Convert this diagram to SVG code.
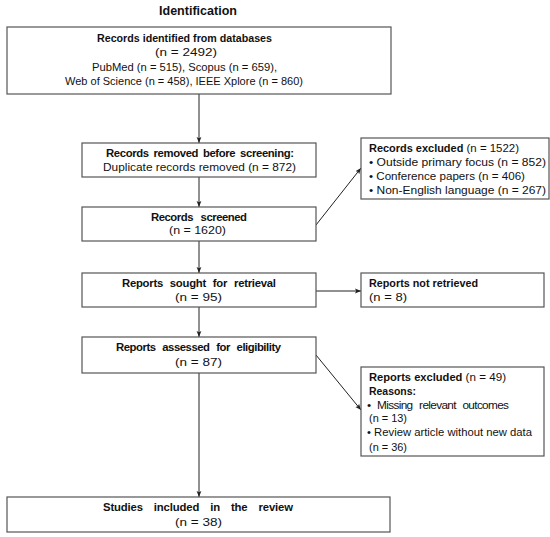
<svg xmlns="http://www.w3.org/2000/svg" width="550" height="537" viewBox="0 0 550 537">
<style>
text{font-family:"Liberation Sans",Arial,sans-serif;font-size:11.8px;fill:#111}
.b{font-weight:bold;font-size:11.3px}
.box{fill:#fff;stroke:#555;stroke-width:1.2}
.ln{stroke:#222;stroke-width:1;fill:none;marker-end:url(#ah)}
</style>
<defs>
<marker id="ah" viewBox="0 0 10 10" refX="10" refY="5" markerWidth="6" markerHeight="6" orient="auto" markerUnits="userSpaceOnUse">
<path d="M0,1 L10,5 L0,9 L2,5 z" fill="#222"/>
</marker>
</defs>
<rect width="550" height="537" fill="#fff"/>
<text class="b" x="159" y="15" style="font-size:13px" textLength="78" lengthAdjust="spacingAndGlyphs">Identification</text>
<g id="connectors">
<line class="ln" x1="199" y1="94" x2="199" y2="143"/>
<line class="ln" x1="199" y1="177" x2="199" y2="207"/>
<line class="ln" x1="316" y1="225" x2="361" y2="168"/>
<line class="ln" x1="199" y1="241" x2="199" y2="273"/>
<line class="ln" x1="316" y1="291" x2="361" y2="291"/>
<line class="ln" x1="199" y1="307" x2="199" y2="337"/>
<line class="ln" x1="316" y1="355" x2="361" y2="410"/>
<line class="ln" x1="199" y1="373" x2="199" y2="497"/>
</g>
<g id="identified">
<rect class="box" x="7" y="27" width="384" height="67"/>
<text class="b" x="97" y="42" textLength="175" lengthAdjust="spacingAndGlyphs">Records identified from databases</text>
<text x="155" y="56" textLength="62" lengthAdjust="spacingAndGlyphs">(n = 2492)</text>
<text x="92" y="71" textLength="185" lengthAdjust="spacingAndGlyphs">PubMed (n = 515), Scopus (n = 659),</text>
<text x="65" y="85" textLength="238" lengthAdjust="spacingAndGlyphs">Web of Science (n = 458), IEEE Xplore (n = 860)</text>
</g>
<g id="removed">
<rect class="box" x="82" y="143" width="234" height="34"/>
<text class="b" x="106" y="157" textLength="188" lengthAdjust="spacing" word-spacing="2">Records removed before screening:</text>
<text x="103" y="171" textLength="193" lengthAdjust="spacingAndGlyphs">Duplicate records removed (n = 872)</text>
</g>
<g id="screened">
<rect class="box" x="82" y="207" width="234" height="34"/>
<text class="b" x="151" y="221" textLength="96" lengthAdjust="spacing" word-spacing="5">Records screened</text>
<text x="169" y="234" textLength="57" lengthAdjust="spacingAndGlyphs">(n = 1620)</text>
</g>
<g id="excluded1">
<rect class="box" x="361" y="138" width="188" height="61"/>
<text x="369" y="152" textLength="150" lengthAdjust="spacingAndGlyphs"><tspan class="b">Records excluded</tspan> (n = 1522)</text>
<text x="369" y="166" textLength="177" lengthAdjust="spacingAndGlyphs">• Outside primary focus (n = 852)</text>
<text x="369" y="180" textLength="156" lengthAdjust="spacingAndGlyphs">• Conference papers (n = 406)</text>
<text x="369" y="194" textLength="177" lengthAdjust="spacingAndGlyphs">• Non-English language (n = 267)</text>
</g>
<g id="sought">
<rect class="box" x="82" y="273" width="234" height="34"/>
<text class="b" x="122" y="287" textLength="154" lengthAdjust="spacing" word-spacing="4">Reports sought for retrieval</text>
<text x="175" y="301" textLength="47" lengthAdjust="spacingAndGlyphs">(n = 95)</text>
</g>
<g id="notretrieved">
<rect class="box" x="361" y="273" width="183" height="34"/>
<text class="b" x="369" y="287" textLength="109" lengthAdjust="spacingAndGlyphs">Reports not retrieved</text>
<text x="369" y="301" textLength="38" lengthAdjust="spacingAndGlyphs">(n = 8)</text>
</g>
<g id="assessed">
<rect class="box" x="82" y="337" width="234" height="36"/>
<text class="b" x="116" y="351" textLength="165" lengthAdjust="spacing" word-spacing="4">Reports assessed for eligibility</text>
<text x="175" y="366" textLength="47" lengthAdjust="spacingAndGlyphs">(n = 87)</text>
</g>
<g id="excluded2">
<rect class="box" x="361" y="367" width="183" height="89"/>
<text x="369" y="381" textLength="137" lengthAdjust="spacingAndGlyphs"><tspan class="b">Reports excluded</tspan> (n = 49)</text>
<text class="b" x="369" y="395" textLength="47" lengthAdjust="spacingAndGlyphs">Reasons:</text>
<text x="367" y="409" textLength="142" lengthAdjust="spacing" word-spacing="4">• Missing relevant outcomes</text>
<text x="369" y="422" textLength="38" lengthAdjust="spacingAndGlyphs">(n = 13)</text>
<text x="367" y="436" textLength="165" lengthAdjust="spacingAndGlyphs">• Review article without new data</text>
<text x="369" y="451" textLength="38" lengthAdjust="spacingAndGlyphs">(n = 36)</text>
</g>
<g id="included">
<rect class="box" x="7" y="497" width="383" height="35"/>
<text class="b" x="103" y="511" textLength="190" lengthAdjust="spacing" word-spacing="8">Studies included in the review</text>
<text x="175" y="526" textLength="47" lengthAdjust="spacingAndGlyphs">(n = 38)</text>
</g>
</svg>
